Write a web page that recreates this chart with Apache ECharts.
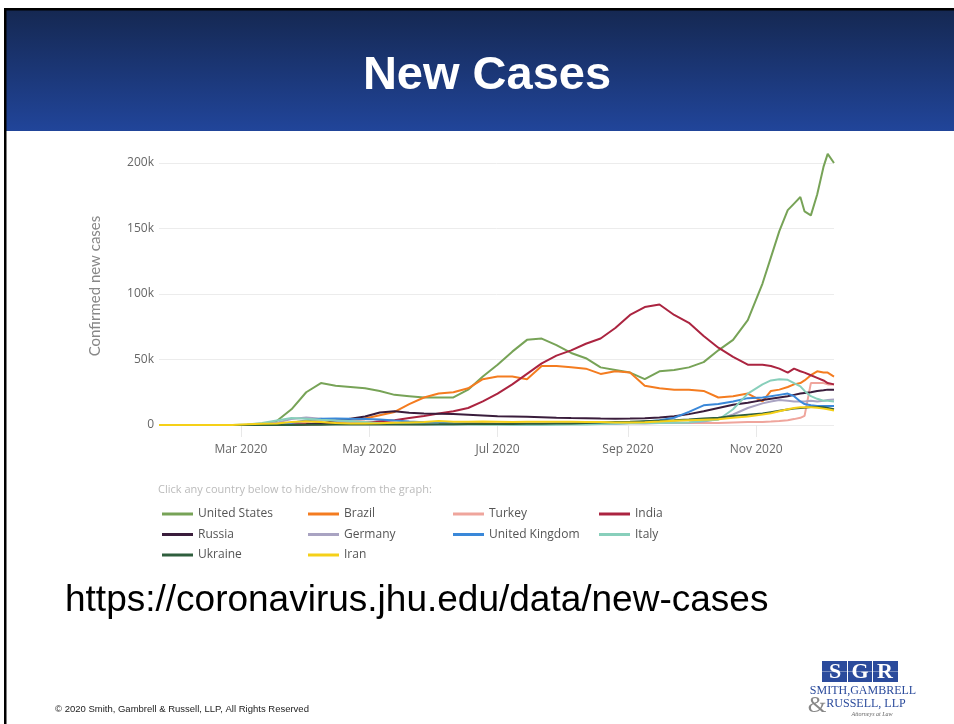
<!DOCTYPE html>
<html>
<head>
<meta charset="utf-8">
<script src="https://cdn.jsdelivr.net/npm/echarts@6/dist/echarts.min.js"></script>
<style>
  html, body { margin: 0; padding: 0; background: #fff; }
  #main { width: 954px; height: 724px; }
</style>
</head>
<body>
<div id="main"></div>
<script>
// sample dates (7-day averages, thousands of new cases)
var dates = ['2020-01-22','2020-02-05','2020-02-19','2020-02-26','2020-03-04','2020-03-11','2020-03-18','2020-03-25',
  '2020-04-01','2020-04-08','2020-04-15','2020-04-22','2020-04-29','2020-05-06','2020-05-13','2020-05-20','2020-05-27',
  '2020-06-03','2020-06-10','2020-06-17','2020-06-24','2020-07-01','2020-07-08','2020-07-15','2020-07-22','2020-07-29',
  '2020-08-05','2020-08-12','2020-08-19','2020-08-26','2020-09-02','2020-09-09','2020-09-16','2020-09-23','2020-09-30',
  '2020-10-07','2020-10-14','2020-10-21','2020-10-28','2020-11-04','2020-11-08','2020-11-12','2020-11-16','2020-11-19',
  '2020-11-22','2020-11-24','2020-11-27','2020-11-30','2020-12-03','2020-12-05','2020-12-08'];

var unitedStates = [0,0,0,0.05,0.1,0.5,3,12,25,32,30,29,28,26,23,22,21,21,21,27,37,46,56,65,66,61,55,51,44,42,
  40,35,41,42,44,48,57,65,80,108,128,148,164,169,174,163,160,176,197,207,200];
var brazil = [0,0,0,0,0,0,0.05,0.3,0.8,1.3,2,3,5,7.5,10,16,21,24,25,28,35,37,37,35,45,45,44,43,39,41,
  40,30,28,27,27,26,21,22,24,18,26,27,29,31,32,34,38,41,40,40,37];
var turkey = [0,0,0,0,0,0,0.05,0.8,2,3.8,4.3,3.5,2.6,1.9,1.6,1.1,1,0.9,1,1.4,1.3,1.2,1.1,1,0.95,0.95,
  1,1.2,1.2,1.4,1.5,1.6,1.7,1.7,1.6,1.5,1.6,1.9,2.2,2.3,2.6,3,3.6,4.5,5.5,7,32,32,32,31,31];
var india = [0,0,0,0,0,0,0,0.1,0.3,0.6,1,1.3,1.6,2.8,3.6,5.3,6.8,8.8,10.5,13,18,24,31,39,47,53,
  57,62,66,74,84,90,92,84,78,68,59,52,46,46,45,43,40,43,41,40,38,36,34,32,31];
var russia = [0,0,0,0,0,0,0.02,0.1,0.6,1.2,3,4.8,6.5,9.5,10.5,9.3,8.8,8.6,8.4,7.8,7.2,6.6,6.5,6.3,6,5.6,
  5.3,5.1,4.9,4.8,4.9,5.2,5.7,6.7,8.3,10.5,13,15.5,17,19,20,21,22,23,24,24.5,25,26,26.5,27,27];
var germany = [0,0,0,0,0.05,0.3,1.8,4.5,5.7,4.8,3.2,2,1.3,1,0.7,0.6,0.5,0.4,0.35,0.4,0.6,0.5,0.4,0.45,0.6,0.7,
  0.8,1.1,1.3,1.4,1.3,1.2,1.5,1.8,2,2.7,4.5,8,13,16.5,18,19,18.5,18,18,18,18.5,18,18.5,19,19.5];
var unitedKingdom = [0,0,0,0,0,0.05,0.6,1.7,3.5,4.7,4.9,4.7,4.6,4.2,3.4,2.7,2.1,1.7,1.3,1.1,0.9,0.8,0.6,0.6,0.65,0.75,
  0.85,1,1.1,1.2,1.5,2.6,3.6,5.5,10,15,16,18,20.5,21,22,23,24,22,18,16,15,14.5,14.5,14.5,14.5];
var italy = [0,0,0,0,0.4,1.5,3.5,5.4,4.8,4.1,3.5,3,2.3,1.4,1,0.7,0.5,0.35,0.3,0.3,0.22,0.2,0.2,0.22,0.25,0.28,
  0.35,0.45,0.7,1.1,1.3,1.5,1.6,1.7,2,3.3,4,12,24,31,34,35,34.5,32,29.5,26,22,20,18.5,18.5,18];
var ukraine = [0,0,0,0,0,0,0,0.05,0.1,0.2,0.3,0.4,0.45,0.45,0.45,0.4,0.45,0.5,0.6,0.75,0.9,0.85,0.8,0.9,1,1.1,
  1.2,1.5,1.9,2.3,2.4,2.8,3.2,3.6,4.2,5,5.6,6.8,7.8,8.8,9.8,10.8,11.8,12.5,13,13.2,13.8,13.8,13.5,13,12];
var iran = [0,0,0,0.05,0.6,0.9,1.2,2.2,2.8,2.2,1.5,1.2,1.1,1.3,1.7,2,2.3,3,2.4,2.5,2.6,2.5,2.3,2.5,2.4,2.4,
  2.4,2.3,2.2,2,2,2.1,2.6,3.2,3.6,4,4.3,5.5,6.5,8,9,10.5,12,13,13.5,13.5,13.5,13.2,12.5,12,11];

var countries = ['United States','Brazil','Turkey','India','Russia','Germany','United Kingdom','Italy','Ukraine','Iran'];
var colors = ['#77a357','#f47c20','#efa59c','#ab2440','#3a1d3c','#a9a3c2','#3a88d9','#88cfbb','#2f5e3d','#f5d018'];
var monthTicks = ['2020-03-01','2020-05-01','2020-07-01','2020-09-01','2020-11-01'];
var monthNames = ['Jan','Feb','Mar','Apr','May','Jun','Jul','Aug','Sep','Oct','Nov','Dec'];

var seriesValues = [unitedStates, brazil, turkey, india, russia, germany, unitedKingdom, italy, ukraine, iran];

function toTime(s) {
    return new Date(s + 'T00:00:00').getTime();
}

var tickTimes = monthTicks.map(toTime);

var series = countries.map(function (name, k) {
    return {
        name: name,
        type: 'line',
        showSymbol: false,
        symbol: 'none',
        clip: false,
        lineStyle: { width: 2, color: colors[k] },
        itemStyle: { color: colors[k] },
        data: dates.map(function (d, i) { return [toTime(d), seriesValues[k][i]]; })
    };
});
// US drawn on top
series[0].z = 3;

function legendColumn(left, names) {
    return {
        orient: 'vertical',
        left: left,
        top: 507,
        padding: 0,
        icon: 'rect',
        itemWidth: 31,
        itemHeight: 3,
        itemGap: 6.5,
        textStyle: { color: '#555', fontSize: 12, fontFamily: 'Open Sans', lineHeight: 14 },
        data: names
    };
}

var chart = echarts.init(document.getElementById('main'));

var option = {
    backgroundColor: '#fff',
    animation: false,
    color: colors,
    grid: { left: 159, right: 120, top: 163, bottom: 299 },
    legend: [
        legendColumn(162, ['United States', 'Russia', 'Ukraine']),
        legendColumn(308, ['Brazil', 'Germany', 'Iran']),
        legendColumn(453, ['Turkey', 'United Kingdom']),
        legendColumn(599, ['India', 'Italy'])
    ],
    xAxis: {
        type: 'value',
        min: toTime(dates[0]),
        max: toTime(dates[dates.length - 1]),
        axisLine: { show: false },
        splitLine: { show: false },
        axisTick: {
            show: true,
            customValues: tickTimes,
            length: 12,
            lineStyle: { color: '#e8e8e8', width: 1 }
        },
        axisLabel: {
            customValues: tickTimes,
            margin: 19,
            color: '#666',
            fontSize: 12,
            fontFamily: 'Open Sans',
            formatter: function (v) {
                var d = new Date(v);
                return monthNames[d.getMonth()] + ' ' + d.getFullYear();
            }
        }
    },
    yAxis: {
        type: 'value',
        min: 0,
        max: 200,
        interval: 50,
        name: 'Confirmed new cases',
        nameLocation: 'middle',
        nameGap: 56,
        nameTextStyle: { color: '#888', fontSize: 15, fontFamily: 'Lato', padding: [0, 0, 0, 16] },
        axisLine: { show: false },
        axisTick: { show: false },
        splitLine: { lineStyle: { color: '#ececec', width: 1 } },
        axisLabel: {
            margin: 5,
            color: '#666',
            fontSize: 12,
            fontFamily: 'Open Sans',
            formatter: function (v) { return v === 0 ? '0' : v + 'k'; }
        }
    },
    graphic: [
        // slide header band
        {
            type: 'rect', silent: true, z: -10,
            shape: { x: 6, y: 10, width: 948, height: 121 },
            style: {
                fill: new echarts.graphic.LinearGradient(0, 0, 0, 1, [
                    { offset: 0, color: '#152852' },
                    { offset: 1, color: '#21459a' }
                ])
            }
        },
        { type: 'rect', silent: true, shape: { x: 4, y: 8, width: 950, height: 2.5 }, style: { fill: '#000' } },
        { type: 'rect', silent: true, shape: { x: 4, y: 8, width: 2.5, height: 716 }, style: { fill: '#000' } },
        {
            type: 'text', silent: true, x: 487, y: 76,
            style: {
                text: 'New Cases', fill: '#fff', align: 'center', verticalAlign: 'middle',
                font: 'bold 47px "Liberation Sans", Arial, sans-serif'
            }
        },
        {
            type: 'text', silent: true, x: 158, y: 490,
            style: {
                text: 'Click any country below to hide/show from the graph:', fill: '#bbb',
                verticalAlign: 'middle', font: '11px "Open Sans", sans-serif'
            }
        },
        {
            type: 'text', silent: true, x: 65, y: 601,
            style: {
                text: 'https://coronavirus.jhu.edu/data/new-cases', fill: '#000',
                verticalAlign: 'middle', font: '37px "Liberation Sans", Arial, sans-serif'
            }
        },
        {
            type: 'text', silent: true, x: 55, y: 709,
            style: {
                text: '\u00a9 2020 Smith, Gambrell & Russell, LLP, All Rights Reserved', fill: '#222',
                verticalAlign: 'middle', font: '9.5px "Liberation Sans", Arial, sans-serif'
            }
        },
        // logo
        { type: 'rect', silent: true, shape: { x: 822, y: 661, width: 76, height: 21 }, style: { fill: '#2b4b9c' } },
        { type: 'text', silent: true, x: 835, y: 672, style: { text: 'S', fill: '#fff', align: 'center', verticalAlign: 'middle', font: 'bold 22px "Liberation Serif", serif' } },
        { type: 'text', silent: true, x: 860, y: 672, style: { text: 'G', fill: '#fff', align: 'center', verticalAlign: 'middle', font: 'bold 22px "Liberation Serif", serif' } },
        { type: 'text', silent: true, x: 885, y: 672, style: { text: 'R', fill: '#fff', align: 'center', verticalAlign: 'middle', font: 'bold 22px "Liberation Serif", serif' } },
        { type: 'line', silent: true, shape: { x1: 847.5, y1: 661, x2: 847.5, y2: 682 }, style: { stroke: '#fff', lineWidth: 1 } },
        { type: 'line', silent: true, shape: { x1: 872.5, y1: 661, x2: 872.5, y2: 682 }, style: { stroke: '#fff', lineWidth: 1 } },
        { type: 'line', silent: true, shape: { x1: 822, y1: 671.5, x2: 898, y2: 671.5 }, style: { stroke: '#fff', lineWidth: 0.6, opacity: 0.6 } },
        { type: 'text', silent: true, x: 863, y: 691, style: { text: 'SMITH,GAMBRELL', fill: '#2b4b9c', align: 'center', verticalAlign: 'middle', font: '12px "Liberation Serif", serif' } },
        { type: 'text', silent: true, x: 817, y: 706, style: { text: '&', fill: '#888', align: 'center', verticalAlign: 'middle', font: '24px "Liberation Serif", serif' } },
        { type: 'text', silent: true, x: 866, y: 704, style: { text: 'RUSSELL, LLP', fill: '#2b4b9c', align: 'center', verticalAlign: 'middle', font: '12px "Liberation Serif", serif' } },
        { type: 'text', silent: true, x: 872, y: 714, style: { text: 'Attorneys at Law', fill: '#666', align: 'center', verticalAlign: 'middle', font: 'italic 6px "Liberation Serif", serif' } }
    ],
    series: series
};

chart.setOption(option);
</script>
</body>
</html>
